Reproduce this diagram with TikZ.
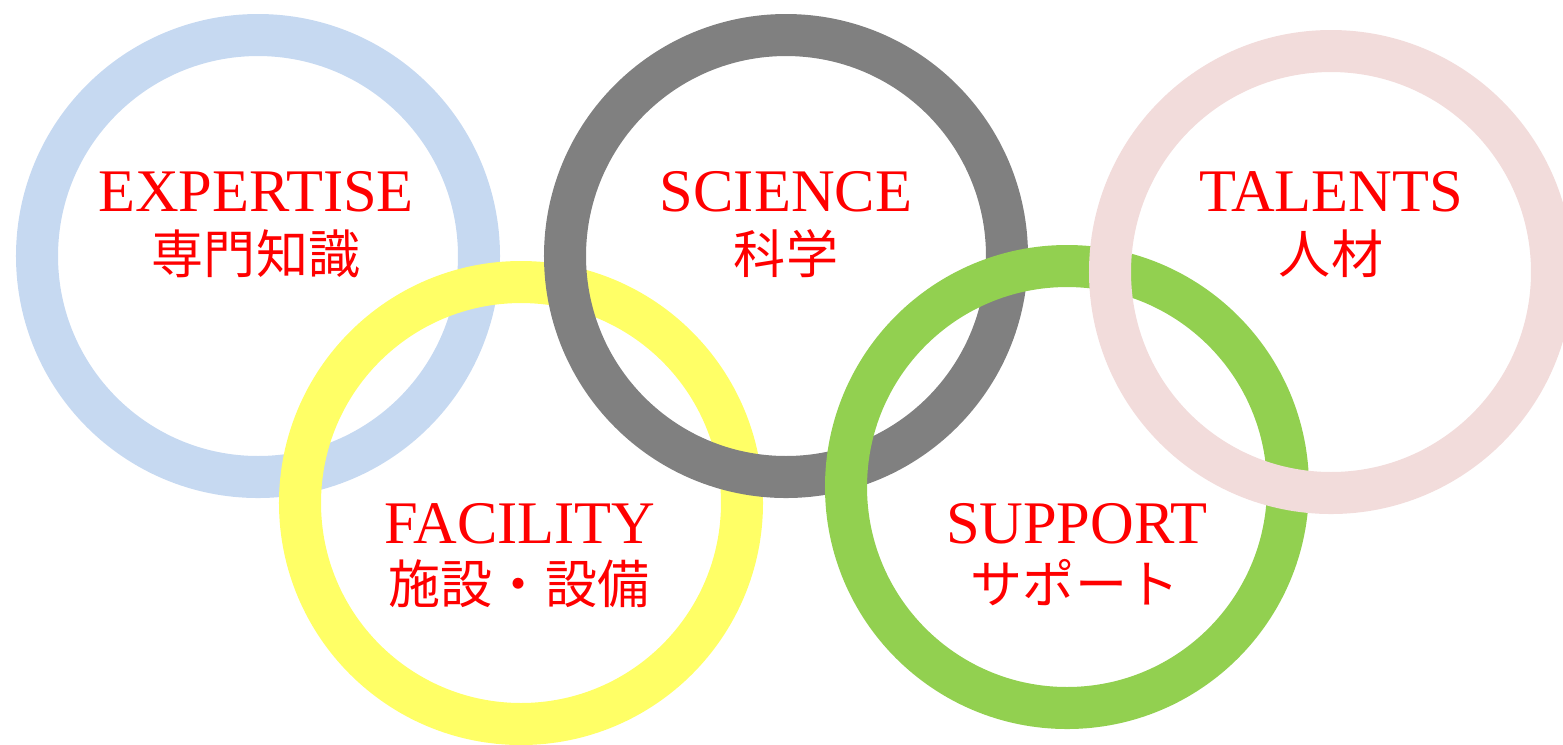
\documentclass[tikz,border=0pt]{standalone}
\usepackage{fontspec}
\setmainfont{Liberation Serif}
\newfontfamily\jpfont{Noto Sans CJK JP}
\usetikzlibrary{positioning}

\definecolor{ringblue}{HTML}{C6D9F1}
\definecolor{ringyellow}{HTML}{FFFF66}
\definecolor{ringgray}{HTML}{808080}
\definecolor{ringgreen}{HTML}{92D050}
\definecolor{ringpink}{HTML}{F2DCDB}

\tikzset{
	ring/.style={line width=4.2mm},
	enlabel/.style={text=red, anchor=base, inner sep=0pt, font=\fontsize{17.2}{19}\selectfont},
	jplabel/.style={text=red, anchor=base, inner sep=0pt, font=\jpfont\fontsize{14.8}{18}\selectfont}
}

\begin{document}
\begin{tikzpicture}[x=0.01cm, y=-0.01cm]
		\clip (0,0) rectangle (1563,744);

		% ring centres
		\coordinate (expertise) at (258,256);
		\coordinate (facility) at (521,503);
		\coordinate (science) at (786,256);
		\coordinate (support) at (1067,487);
		\coordinate (talents) at (1331,272);

		% rings, later ones lie on top
		\draw[ring, ringblue] (expertise) circle (221);
		\draw[ring, ringyellow] (facility) circle (221);
		\draw[ring, ringgray] (science) circle (221);
		\draw[ring, ringgreen] (support) circle (221);
		\draw[ring, ringpink] (talents) circle (221);

		% labels
		\node[enlabel] (expertise-en) at (256,211) {EXPERTISE};
		\node[jplabel] (expertise-jp) at (256,273) {専門知識};
		\node[enlabel] (science-en) at (786,211) {SCIENCE};
		\node[jplabel] (science-jp) at (786,273) {科学};
		\node[enlabel] (talents-en) at (1331,211) {TALENTS};
		\node[jplabel] (talents-jp) at (1331,273) {人材};
		\node[enlabel] (facility-en) at (520,543) {FACILITY};
		\node[jplabel] (facility-jp) at (519,603) {施設・設備};
		\node[enlabel] (support-en) at (1077,543) {SUPPORT};
		\node[jplabel] (support-jp) at (1075,603) {サポート};
	\end{tikzpicture}
\end{document}
